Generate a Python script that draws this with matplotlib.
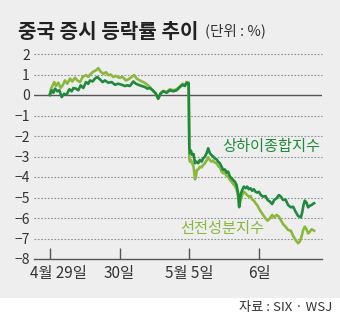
import matplotlib
matplotlib.use("Agg")
import matplotlib.pyplot as plt
import matplotlib.transforms as mtransforms
from matplotlib.patches import Rectangle

plt.rcParams['font.family'] = ['Noto Sans CJK KR', 'DejaVu Sans']

# ---- data (x = trading day index, y = % change) ----
tick_pos = [0, 1, 2, 3]
tick_labels = ["4월 29일", "30일", "5월 5일", "6일"]
y_ticks = [2, 1, 0, -1, -2, -3, -4, -5, -6, -7, -8]

shanghai_x = [0.0, 0.029, 0.052, 0.076, 0.109, 0.137, 0.172, 0.205, 0.243, 0.281, 0.315, 0.338,
              0.376, 0.409, 0.444, 0.481, 0.520, 0.552, 0.577, 0.615, 0.648, 0.681, 0.720, 0.759,
              0.791, 0.839, 0.887, 0.935, 0.982, 1.030, 1.078, 1.111, 1.149, 1.197, 1.235, 1.268,
              1.317, 1.364, 1.397, 1.436, 1.474, 1.521, 1.554, 1.589, 1.626, 1.675, 1.722, 1.769,
              1.818, 1.865, 1.904, 1.936, 1.961, 1.984, 1.990,
              2.000, 2.008, 2.022, 2.041, 2.061, 2.080, 2.104, 2.127, 2.151, 2.176, 2.198, 2.223,
              2.247, 2.270, 2.294, 2.319, 2.342, 2.366, 2.390, 2.413, 2.437, 2.462, 2.485, 2.509,
              2.533, 2.556, 2.581, 2.605, 2.628, 2.652, 2.676, 2.699, 2.714, 2.734, 2.757, 2.781,
              2.805, 2.828, 2.852, 2.877, 2.900, 2.924, 2.948, 2.971, 2.996, 3.024, 3.057, 3.091,
              3.120, 3.153, 3.186, 3.215, 3.249, 3.282, 3.310, 3.343, 3.378, 3.415, 3.454, 3.487,
              3.521, 3.558, 3.597, 3.615, 3.635, 3.654, 3.678, 3.701, 3.726, 3.750, 3.773, 3.787]
shanghai_y = [0.0, 0.23, 0.11, 0.31, 0.18, 0.23, -0.10, 0.06, 0.02, 0.28, 0.18, 0.34,
              0.31, 0.23, 0.47, 0.34, 0.63, 0.55, 0.71, 0.66, 0.80, 0.88, 0.76, 0.63,
              0.71, 0.60, 0.63, 0.50, 0.55, 0.50, 0.44, 0.47, 0.44, 0.66, 0.55, 0.50,
              0.44, 0.39, 0.31, 0.34, 0.23, 0.07, -0.18, 0.07, 0.18, 0.11, 0.23, 0.18,
              0.23, 0.39, 0.50, 0.44, 0.60, 0.55, 0.58,
              -2.52, -2.84, -2.71, -2.93, -2.88, -3.33, -3.25, -3.33, -3.17, -3.25, -3.09, -3.01,
              -2.84, -2.60, -2.84, -2.93, -3.01, -3.09, -3.14, -3.25, -3.33, -3.50, -3.66, -3.63,
              -3.79, -3.74, -3.98, -4.06, -4.15, -4.23, -4.39, -4.80, -5.45, -4.88, -4.63, -4.47,
              -4.55, -4.47, -4.60, -4.55, -4.67, -4.60, -4.72, -4.76, -4.72, -4.88, -4.96, -4.93,
              -5.12, -5.20, -5.32, -5.12, -5.04, -4.88, -4.96, -5.12, -5.10, -5.37, -5.48, -5.45,
              -5.69, -5.90, -5.97, -5.75, -5.37, -5.15, -5.25, -5.48, -5.40, -5.37, -5.30, -5.28]

shenzhen_x = [0.0, 0.019, 0.043, 0.066, 0.090, 0.123, 0.157, 0.186, 0.219, 0.252, 0.291, 0.323,
              0.362, 0.395, 0.434, 0.472, 0.520, 0.552, 0.587, 0.624, 0.663, 0.696, 0.730, 0.767,
              0.806, 0.839, 0.873, 0.910, 0.949, 0.996, 1.045, 1.092, 1.125, 1.174, 1.211, 1.245,
              1.292, 1.340, 1.378, 1.411, 1.460, 1.507, 1.554, 1.589, 1.626, 1.675, 1.722, 1.769,
              1.818, 1.865, 1.904, 1.936, 1.961, 1.984, 1.990,
              2.000, 2.008, 2.022, 2.041, 2.061, 2.080, 2.094, 2.108, 2.127, 2.151, 2.176, 2.198,
              2.223, 2.247, 2.270, 2.294, 2.319, 2.342, 2.366, 2.390, 2.413, 2.437, 2.462, 2.485,
              2.509, 2.533, 2.556, 2.581, 2.605, 2.628, 2.652, 2.676, 2.699, 2.714, 2.734, 2.757,
              2.781, 2.805, 2.828, 2.852, 2.877, 2.900, 2.924, 2.948, 2.971, 2.996, 3.024, 3.057,
              3.091, 3.120, 3.153, 3.186, 3.215, 3.249, 3.282, 3.310, 3.343, 3.378, 3.415, 3.454,
              3.487, 3.521, 3.558, 3.582, 3.607, 3.630, 3.654, 3.678, 3.701, 3.726, 3.750, 3.773,
              3.787]
shenzhen_y = [0.0, 0.31, 0.47, 0.63, 0.44, 0.60, 0.34, 0.47, 0.71, 0.55, 0.80, 0.66,
              0.84, 0.71, 0.63, 0.88, 0.97, 0.88, 1.03, 1.14, 1.20, 1.31, 1.14, 1.03,
              1.11, 0.97, 1.00, 0.88, 0.93, 0.84, 0.88, 0.71, 0.76, 0.88, 0.97, 0.80,
              0.71, 0.63, 0.55, 0.47, 0.28, 0.11, -0.18, 0.10, 0.20, 0.15, 0.28, 0.23,
              0.28, 0.42, 0.55, 0.47, 0.63, 0.57, 0.60,
              -3.09, -3.25, -3.17, -3.33, -3.50, -4.11, -3.98, -3.66, -3.63, -3.50, -3.53, -3.41,
              -3.33, -3.20, -3.04, -3.17, -3.25, -3.20, -3.30, -3.33, -3.46, -3.53, -3.74, -3.82,
              -3.79, -3.95, -3.98, -4.15, -4.23, -4.34, -4.44, -4.60, -4.96, -5.48, -5.12, -4.88,
              -4.72, -4.80, -4.88, -4.96, -4.93, -5.10, -5.15, -5.28, -5.37, -5.53, -5.69, -5.85,
              -6.02, -6.13, -6.02, -5.85, -5.97, -5.85, -5.93, -6.10, -6.30, -6.42, -6.59, -6.62,
              -6.88, -7.07, -7.23, -7.15, -6.91, -6.59, -6.42, -6.55, -6.75, -6.67, -6.55, -6.59,
              -6.62]

title = "중국 증시 등락률 추이"
unit = "(단위 : %)"
label_sh = "상하이종합지수"
label_sz = "선전성분지수"
source = "자료 : SIX · WSJ"

# ---- styling ----
BG = "#eeeeee"
DARK = "#1f8a3c"
LIGHT = "#8ab83c"
TXT = "#333333"

W, H = 340, 319
fig = plt.figure(figsize=(W / 100, H / 100), dpi=100, facecolor="white")
fig.patches.append(Rectangle((0, 21 / H), 1, 1 - 21 / H, transform=fig.transFigure,
                             facecolor=BG, edgecolor="none", zorder=-10))

ax = fig.add_axes([34 / W, 1 - 259 / H, 288 / W, 205 / H])
ax.set_facecolor("none")
ax.set_xlim(-0.225, 3.9)
ax.set_ylim(-8, 2)

for v in y_ticks:
    if v == 0:
        ax.axhline(v, color="#555555", lw=1.0, zorder=1)
    elif v == -8:
        continue
    else:
        ax.axhline(v, color="#8f8f8f", lw=0.8, ls=(0, (1.5, 1.5)), zorder=1, clip_on=False)

ax.plot(shenzhen_x, shenzhen_y, color=LIGHT, lw=1.9, zorder=3, solid_joinstyle="round")
ax.plot(shanghai_x, shanghai_y, color=DARK, lw=1.9, zorder=4, solid_joinstyle="round")

for s in ["top", "right", "left"]:
    ax.spines[s].set_visible(False)
ax.spines["bottom"].set_color("#555555")
ax.spines["bottom"].set_linewidth(1.0)

ax.set_yticks(y_ticks)
ax.set_yticklabels([str(v).replace("-", "−") for v in y_ticks])
ax.tick_params(axis="y", length=0, pad=3, labelsize=10, labelcolor=TXT)
ax.set_xticks(tick_pos)
ax.set_xticklabels(tick_labels)
ax.tick_params(axis="x", direction="in", length=8, width=1, color="#555555",
               pad=4, labelsize=11, labelcolor=TXT)
first = ax.get_xticklabels()[0]
first.set_transform(first.get_transform() +
                    mtransforms.ScaledTranslation(9 / 100, 0, fig.dpi_scale_trans))

ax.text(3.87, -2.52, label_sh, color=DARK, fontsize=11, ha="right", va="center",
        fontweight="medium")
ax.text(1.875, -6.5, label_sz, color=LIGHT, fontsize=11, ha="left", va="center",
        fontweight="medium")

fig.text(18 / W, 1 - 31 / H, title, fontsize=14.5, fontweight="bold", color="#222222",
         ha="left", va="center")
fig.text(205 / W, 1 - 31 / H, unit, fontsize=10.5, color=TXT, ha="left", va="center")
fig.text(332 / W, 1 - 308 / H, source, fontsize=9.5, color=TXT, ha="right", va="center")

fig.savefig("out.png", dpi=100, facecolor="white")
